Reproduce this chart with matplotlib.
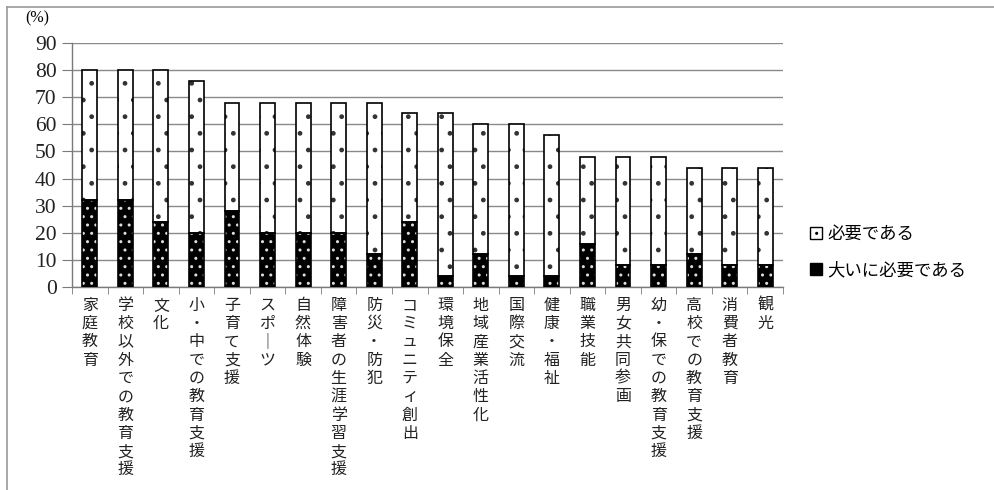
import matplotlib
matplotlib.use("Agg")
import matplotlib.pyplot as plt
from matplotlib.patches import Patch
from matplotlib.lines import Line2D
import numpy as np

plt.rcParams['font.family'] = ['Noto Sans CJK JP', 'DejaVu Sans']
plt.rcParams['hatch.linewidth'] = 1.0

categories = ["家庭教育", "学校以外での教育支援", "文化", "小・中での教育支援", "子育て支援",
              "スポーツ", "自然体験", "障害者の生涯学習支援", "防災・防犯", "コミュニティ創出",
              "環境保全", "地域産業活性化", "国際交流", "健康・福祉", "職業技能",
              "男女共同参画", "幼・保での教育支援", "高校での教育支援", "消費者教育", "観光"]
very_needed = [32, 32, 24, 20, 28, 20, 20, 20, 12, 24, 4, 12, 4, 4, 16, 8, 8, 12, 8, 8]
needed = [48, 48, 56, 56, 40, 48, 48, 48, 56, 40, 60, 48, 56, 52, 32, 40, 40, 32, 36, 36]
series_names = ["必要である", "大いに必要である"]
yticks = [0, 10, 20, 30, 40, 50, 60, 70, 80, 90]

W, H = 994, 490
fig = plt.figure(figsize=(W / 100, H / 100), dpi=100)
ax = fig.add_axes([72 / W, (H - 287) / H, (783 - 72) / W, (287 - 43) / H])

x = np.arange(len(categories))
bw = 0.42

# black series with white dots
ax.bar(x, very_needed, bw, facecolor='black', edgecolor='#dddddd', hatch='..', linewidth=0, zorder=3)
ax.bar(x, very_needed, bw, fill=False, edgecolor='black', linewidth=1.2, zorder=4)
# white series with sparse marks
ax.bar(x, needed, bw, bottom=very_needed, facecolor='white', edgecolor='#333333', hatch='.',
       linewidth=0, zorder=3)
ax.bar(x, needed, bw, bottom=very_needed, fill=False, edgecolor='black', linewidth=1.2, zorder=4)

ax.set_xlim(-0.5, len(categories) - 0.5)
ax.set_ylim(0, 90)
ax.set_yticks(yticks)
ax.set_yticklabels([str(v) for v in yticks], fontfamily='Liberation Serif', fontsize=15.5,
                   color='#222222')
ax.yaxis.grid(True, color='#8a8a8a', linewidth=1.0)
ax.set_axisbelow(True)

for s in ['top', 'right']:
    ax.spines[s].set_visible(False)
for s in ['left', 'bottom']:
    ax.spines[s].set_color('#7a7a7a')
    ax.spines[s].set_linewidth(1.0)
ax.tick_params(axis='y', length=7, color='#7a7a7a', pad=4)

def vert(s):
    return "\n".join("｜" if c == "ー" else c for c in s)

ax.set_xticks(x)
ax.set_xticklabels([vert(c) for c in categories], fontsize=11.5, linespacing=1.1, va='top',
                   color='#222222')
ax.tick_params(axis='x', length=0, pad=7)
ax.set_xticks(np.arange(-0.5, len(categories)), minor=True)
ax.tick_params(axis='x', which='minor', length=5, color='#7a7a7a')

fig.text(25 / W, 1 - 18 / H, "(%)", fontfamily='Liberation Serif', fontsize=11.5,
         va='center', ha='left')

handles = [Patch(facecolor='white', edgecolor='black', hatch='..', linewidth=1),
           Patch(facecolor='black', edgecolor='black', linewidth=1)]
fig.legend(handles, series_names, loc='upper left', bbox_to_anchor=(803 / W, 1 - 218 / H),
           frameon=False, fontsize=12.5, handlelength=0.7, handleheight=0.7, handletextpad=0.3,
           labelspacing=1.05, borderaxespad=0)

fig.add_artist(Line2D([7 / W, 1], [1 - 7 / H, 1 - 7 / H], color='#9a9a9a', linewidth=1.2))
fig.add_artist(Line2D([7 / W, 7 / W], [0, 1 - 7 / H], color='#9a9a9a', linewidth=1.2))

fig.savefig("out.png", dpi=100)
